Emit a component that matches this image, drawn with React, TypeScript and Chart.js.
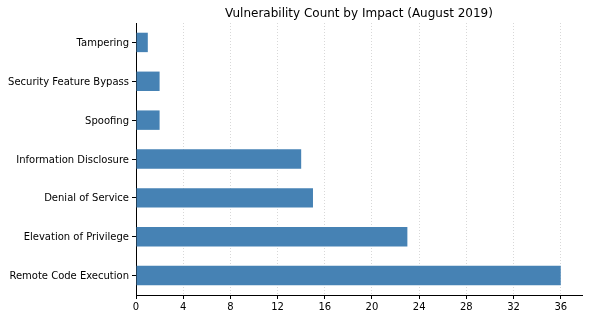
import React, { useEffect, useRef } from "react";
import { Chart, registerables } from "chart.js";

Chart.register(...registerables);

const categories = [
  "Tampering",
  "Security Feature Bypass",
  "Spoofing",
  "Information Disclosure",
  "Denial of Service",
  "Elevation of Privilege",
  "Remote Code Execution",
];
const counts = [1, 2, 2, 14, 15, 23, 36];
const xTicks = [0, 4, 8, 12, 16, 20, 24, 28, 32, 36];
const titleText = "Vulnerability Count by Impact (August 2019)";

const FONT = "'DejaVu Sans', sans-serif";

const titlePlugin = {
  id: "mplTitle",
  afterDraw(chart: any) {
    const { ctx, chartArea } = chart;
    ctx.save();
    ctx.font = `12px ${FONT}`;
    ctx.fillStyle = "#000";
    ctx.textAlign = "center";
    ctx.textBaseline = "alphabetic";
    ctx.fillText(titleText, (chartArea.left + chartArea.right) / 2, 17);
    ctx.restore();
  },
};

export default function App() {
  const ref = useRef<HTMLCanvasElement>(null);
  useEffect(() => {
    document.body.style.margin = "0";
    const chart = new Chart(ref.current!, {
      type: "bar",
      data: {
        labels: categories,
        datasets: [
          {
            data: counts,
            backgroundColor: "#4682B4",
            barPercentage: 0.5,
            categoryPercentage: 1,
          },
        ],
      },
      plugins: [titlePlugin],
      options: {
        indexAxis: "y",
        animation: false,
        responsive: true,
        maintainAspectRatio: false,
        layout: { padding: { left: 0, right: 7, top: 23, bottom: 0 } },
        plugins: { legend: { display: false }, tooltip: { enabled: false } },
        scales: {
          x: {
            type: "linear",
            min: 0,
            max: 37.8,
            afterBuildTicks: (scale: any) => {
              scale.ticks = xTicks.map((v) => ({ value: v }));
            },
            afterFit: (scale: any) => {
              scale.height = 24;
            },
            grid: {
              color: "#d8d8d8",
              tickBorderDash: [],
              tickColor: "#000",
              tickLength: 4,
              drawTicks: true,
            },
            border: { display: true, color: "#000", width: 1, dash: [1, 2] },
            ticks: {
              color: "#000",
              font: { family: FONT, size: 10 },
              padding: 2,
              maxRotation: 0,
            },
          },
          y: {
            type: "category",
            offset: true,
            afterFit: (scale: any) => {
              scale.width = 136;
            },
            grid: {
              offset: false,
              drawOnChartArea: false,
              drawTicks: true,
              tickLength: 4,
              tickColor: "#000",
            },
            border: { display: true, color: "#000", width: 1 },
            ticks: {
              color: "#000",
              font: { family: FONT, size: 10 },
              padding: 3,
              labelOffset: 1,
            },
          },
        },
      },
    });
    return () => chart.destroy();
  }, []);
  return (
    <div style={{ position: "fixed", left: 0, top: 0, width: 589, height: 319 }}>
      <canvas ref={ref} />
    </div>
  );
}
